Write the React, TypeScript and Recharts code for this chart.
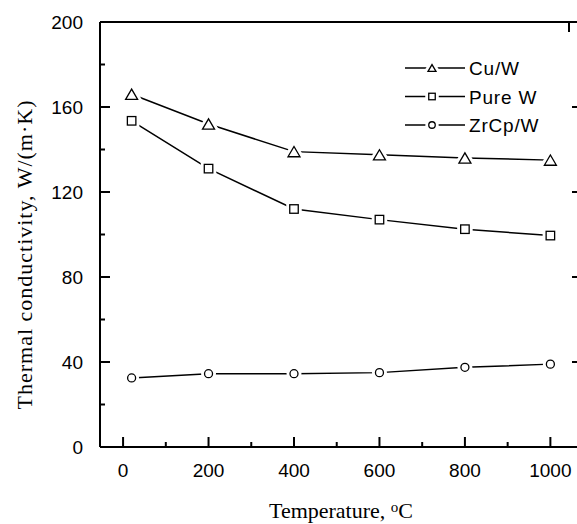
import { LineChart, Line, XAxis, YAxis } from "recharts"

const TEMPS = [20, 200, 400, 600, 800, 1000]
const CU_W = [166, 152, 139, 137.5, 136, 135]
const PURE_W = [153.5, 131, 112, 107, 102.5, 99.5]
const ZRCP_W = [32.5, 34.5, 34.5, 35, 37.5, 39]

const X_TICKS = [0, 100, 200, 300, 400, 500, 600, 700, 800, 900, 1000]
const Y_TICKS = [0, 20, 40, 60, 80, 100, 120, 140, 160, 180, 200]

const SERIES = [
  { key: "cuw", name: "Cu/W", values: CU_W, shape: "triangle" },
  { key: "purew", name: "Pure W", values: PURE_W, shape: "square" },
  { key: "zrcpw", name: "ZrCp/W", values: ZRCP_W, shape: "circle" },
]

const data = TEMPS.map((t, i) => {
  const row: Record<string, number> = { t }
  SERIES.forEach((s) => (row[s.key] = s.values[i]))
  return row
})

const SANS = "'Liberation Sans', Arial, sans-serif"
const SERIF = "'Liberation Serif', 'Times New Roman', serif"
const MAJOR = 10
const MINOR = 5

function Marker({ shape, cx, cy, s, halo }: { shape: string; cx: number; cy: number; s: number; halo: boolean }) {
  const stroke = halo ? "#fff" : "#000"
  const sw = halo ? 7 : 1.3
  if (shape === "triangle") {
    const h = s * 0.85
    const pts = `${cx - s / 2},${cy + h / 2} ${cx + s / 2},${cy + h / 2} ${cx},${cy - h / 2}`
    return <polygon points={pts} fill="#fff" stroke={stroke} strokeWidth={sw} strokeLinejoin="miter" />
  }
  if (shape === "square") {
    return <rect x={cx - s / 2} y={cy - s / 2} width={s} height={s} fill="#fff" stroke={stroke} strokeWidth={sw} />
  }
  return <circle cx={cx} cy={cy} r={s / 2} fill="#fff" stroke={stroke} strokeWidth={sw} />
}

function makeDot(shape: string) {
  const size = shape === "triangle" ? 12 : shape === "square" ? 8.5 : 8
  return (props: any) => {
    const { cx, cy, index } = props
    if (cx == null || cy == null) return <g key={`d-${index}`} />
    return (
      <g key={`d-${index}`}>
        <Marker shape={shape} cx={cx} cy={cy} s={size} halo />
        <Marker shape={shape} cx={cx} cy={cy} s={size} halo={false} />
      </g>
    )
  }
}

function BottomTick(props: any) {
  const { x, y, payload } = props
  const major = payload.value % 200 === 0
  return (
    <g>
      <path d={`M${x},${y}V${y - (major ? MAJOR : MINOR)}`} stroke="#000" strokeWidth={2} fill="none" />
      {major && (
        <text x={x} y={y + 30} textAnchor="middle" fontSize={19} fontFamily={SANS} fill="#000" stroke="none">
          {payload.value}
        </text>
      )}
    </g>
  )
}

function TopTick(props: any) {
  const { x, y, payload } = props
  const major = payload.value % 200 === 0
  return <path d={`M${x},${y}V${y + (major ? MAJOR : MINOR)}`} stroke="#000" strokeWidth={2} fill="none" />
}

function LeftTick(props: any) {
  const { x, y, payload } = props
  const major = payload.value % 40 === 0
  return (
    <g>
      <path d={`M${x},${y}H${x + (major ? MAJOR : MINOR)}`} stroke="#000" strokeWidth={2} fill="none" />
      {major && (
        <text x={x - 17} y={y + 7} textAnchor="end" fontSize={19} fontFamily={SANS} fill="#000" stroke="none">
          {payload.value}
        </text>
      )}
    </g>
  )
}

function RightTick(props: any) {
  const { x, y, payload } = props
  const major = payload.value % 40 === 0
  return <path d={`M${x},${y}H${x - (major ? MAJOR : MINOR)}`} stroke="#000" strokeWidth={2} fill="none" />
}

function LegendBox() {
  return (
    <svg width={177} height={90} style={{ position: "absolute", left: 400, top: 52 }}>
      {SERIES.map((s, i) => {
        const cy = 16 + i * 28.5
        const size = s.shape === "triangle" ? 8 : 6.5
        return (
          <g key={s.key}>
            <line x1={5} y1={cy} x2={65} y2={cy} stroke="#000" strokeWidth={1.4} />
            <Marker shape={s.shape} cx={32} cy={cy} s={size} halo />
            <Marker shape={s.shape} cx={32} cy={cy} s={size} halo={false} />
            <text x={69} y={cy + 7} fontSize={19} letterSpacing={0.8} fontFamily={SANS} fill="#000">
              {s.name}
            </text>
          </g>
        )
      })}
    </svg>
  )
}

export default function App() {
  return (
    <div style={{ position: "absolute", left: 0, top: 0, width: 577, height: 524, overflow: "hidden", background: "#fff" }}>
      <LineChart width={585} height={524} data={data} margin={{ top: 0, right: 0, bottom: 0, left: 0 }}>
        <XAxis
          dataKey="t"
          type="number"
          domain={[-54, 1074]}
          ticks={X_TICKS}
          height={77}
          tickSize={0}
          tickMargin={0}
          tick={<BottomTick />}
          axisLine={{ stroke: "#000", strokeWidth: 2 }}
          tickLine={false}
          allowDataOverflow
          label={{
            content: ({ viewBox }: any) => (
              <text
                x={viewBox.x + viewBox.width / 2}
                y={viewBox.y + 71}
                textAnchor="middle"
                fontSize={22}
                fontFamily={SERIF}
                fill="#000"
              >
                Temperature, <tspan fontSize={15} dy={-6}>o</tspan>
                <tspan dy={6}>C</tspan>
              </text>
            ),
          }}
        />
        <XAxis
          xAxisId="top"
          orientation="top"
          type="number"
          domain={[-54, 1074]}
          ticks={X_TICKS}
          height={22}
          tickSize={0}
          tickMargin={0}
          tick={<TopTick />}
          axisLine={{ stroke: "#000", strokeWidth: 2 }}
          tickLine={false}
          allowDataOverflow
        />
        <YAxis
          type="number"
          domain={[0, 200]}
          ticks={Y_TICKS}
          width={100}
          tickSize={0}
          tickMargin={0}
          tick={<LeftTick />}
          axisLine={{ stroke: "#000", strokeWidth: 2 }}
          tickLine={false}
          allowDataOverflow
          label={{
            content: ({ viewBox }: any) => {
              const x = viewBox.x + 32
              const y = viewBox.y + viewBox.height / 2 + 20
              return (
                <text
                  x={x}
                  y={y}
                  transform={`rotate(-90, ${x}, ${y})`}
                  textAnchor="middle"
                  fontSize={22}
                  letterSpacing={1}
                  fontFamily={SERIF}
                  fill="#000"
                >
                  Thermal conductivity,  W/(m·K)
                </text>
              )
            },
          }}
        />
        <YAxis
          yAxisId="right"
          orientation="right"
          type="number"
          domain={[0, 200]}
          ticks={Y_TICKS}
          width={3}
          tickSize={0}
          tickMargin={0}
          tick={<RightTick />}
          axisLine={{ stroke: "#000", strokeWidth: 2 }}
          tickLine={false}
          allowDataOverflow
        />
        {SERIES.map((s) => (
          <Line
            key={s.key}
            dataKey={s.key}
            name={s.name}
            stroke="#000"
            strokeWidth={1.5}
            dot={makeDot(s.shape)}
            activeDot={false}
            isAnimationActive={false}
          />
        ))}
      </LineChart>
      <LegendBox />
    </div>
  )
}
